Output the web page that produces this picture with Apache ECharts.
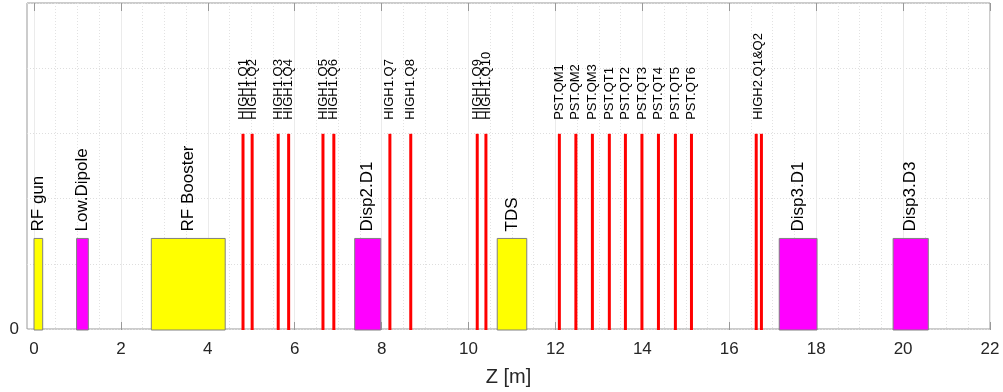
<!DOCTYPE html>
<html>
<head>
<meta charset="utf-8">
<script src="https://cdn.jsdelivr.net/npm/echarts@6/dist/echarts.min.js"></script>
<style>
  html, body { margin: 0; padding: 0; background: #ffffff; }
  #chart { width: 1003px; height: 392px; }
</style>
</head>
<body>
<div id="chart"></div>
<script>
// Beamline elements along Z (start / end in metres)
const elementNames  = ['RF gun', 'Low.Dipole', 'RF Booster', 'Disp2.D1', 'TDS', 'Disp3.D1', 'Disp3.D3'];
const elementStart  = [0.00, 0.98, 2.70, 7.38, 10.66, 17.15, 19.77];
const elementEnd    = [0.20, 1.25, 4.40, 7.98, 11.34, 18.02, 20.58];
const elementKind   = ['rf', 'dipole', 'rf', 'dipole', 'rf', 'dipole', 'dipole'];
const elementHeight = 1.4;

// Quadrupole positions (m)
const quadZ = [4.81, 5.02, 5.62, 5.86, 6.65, 6.90, 8.19, 8.67, 10.20, 10.40,
               12.09, 12.47, 12.85, 13.24, 13.61, 13.99, 14.37, 14.76, 15.13,
               16.62, 16.74];
const quadHeight = 3;

// Quadrupole labels and where they sit along Z
const quadLabelText = ['HIGH1.Q1', 'HIGH1.Q2', 'HIGH1.Q3', 'HIGH1.Q4', 'HIGH1.Q5', 'HIGH1.Q6',
                       'HIGH1.Q7', 'HIGH1.Q8', 'HIGH1.Q9', 'HIGH1.Q10',
                       'PST.QM1', 'PST.QM2', 'PST.QM3', 'PST.QT1', 'PST.QT2', 'PST.QT3',
                       'PST.QT4', 'PST.QT5', 'PST.QT6', 'HIGH2.Q1&Q2'];
const quadLabelZ = [4.81, 5.02, 5.62, 5.86, 6.65, 6.90, 8.19, 8.67, 10.20, 10.40,
                    12.09, 12.47, 12.85, 13.24, 13.61, 13.99, 14.37, 14.76, 15.13,
                    16.68];

// Axis ranges
const zMin = 0, zMax = 22, zStep = 2;
const yMin = 0, yMax = 5;

const FONT = "'Liberation Sans', Arial, Helvetica, sans-serif";
const TEXT_COLOR = '#262626';
const kindColor = { rf: '#ffff00', dipole: '#ff00ff' };

const chart = echarts.init(document.getElementById('chart'), null, { renderer: 'canvas' });

const option = {
  animation: false,
  backgroundColor: '#ffffff',
  grid: [
    // outer frame (extends a little left of Z = 0)
    { left: 27, right: 13, top: 3, bottom: 62, show: true, borderColor: '#999999', borderWidth: 1, backgroundColor: 'transparent' },
    // data area
    { left: 34, right: 13, top: 3, bottom: 62 }
  ],
  xAxis: [
    {
      gridIndex: 0, type: 'value', min: 0, max: 1,
      name: 'Z [m]', nameLocation: 'middle', nameGap: 38,
      nameTextStyle: { fontFamily: FONT, fontSize: 20, color: TEXT_COLOR },
      axisLine: { show: false }, axisTick: { show: false },
      axisLabel: { show: false }, splitLine: { show: false }
    },
    {
      gridIndex: 1, type: 'value', min: zMin, max: zMax, interval: zStep,
      axisLine: { show: false },
      axisTick: { show: true, inside: true, length: 8, lineStyle: { color: '#999999' } },
      axisLabel: { fontFamily: FONT, fontSize: 17, color: TEXT_COLOR, margin: 11 },
      splitLine: { show: true, lineStyle: { color: '#ebebeb', width: 1 } },
      minorTick: { show: false, splitNumber: 4 },
      minorSplitLine: { show: true, lineStyle: { color: '#e2e2e2', type: [1, 2], width: 1 } }
    },
    {
      gridIndex: 1, type: 'value', position: 'top', min: zMin, max: zMax, interval: zStep,
      axisLine: { show: false },
      axisTick: { show: true, inside: true, length: 8, lineStyle: { color: '#999999' } },
      axisLabel: { show: false }, splitLine: { show: false }
    }
  ],
  yAxis: [
    {
      gridIndex: 0, type: 'value', min: yMin, max: yMax, interval: 1,
      axisLine: { show: false }, axisTick: { show: false },
      axisLabel: {
        fontFamily: FONT, fontSize: 17, color: TEXT_COLOR, margin: 8,
        formatter: v => (v === 0 ? '0' : '')
      },
      splitLine: { show: true, lineStyle: { color: '#dedede', type: [1, 2], width: 1 } }
    },
    {
      gridIndex: 1, type: 'value', min: yMin, max: yMax, show: false
    }
  ],
  series: [
    // Quadrupoles: thin red bars
    {
      type: 'custom',
      xAxisIndex: 1, yAxisIndex: 1,
      data: quadZ.map(z => [z, quadHeight]),
      renderItem: (params, api) => {
        const base = api.coord([api.value(0), 0]);
        const top = api.coord([api.value(0), api.value(1)]);
        return {
          type: 'rect',
          shape: { x: base[0] - 1.5, y: top[1], width: 3, height: base[1] - top[1] },
          style: { fill: '#ff0000' }
        };
      }
    },
    // Quadrupole names above the bars
    {
      type: 'custom',
      xAxisIndex: 1, yAxisIndex: 1,
      data: quadLabelZ.map(z => [z, quadHeight]),
      renderItem: (params, api) => {
        const p = api.coord([api.value(0), api.value(1)]);
        return {
          type: 'text',
          x: p[0], y: p[1] - 14,
          rotation: Math.PI / 2,
          style: {
            text: quadLabelText[params.dataIndex],
            x: 0, y: 0,
            fontFamily: FONT, fontSize: 13, fill: '#000000',
            align: 'left', verticalAlign: 'middle'
          }
        };
      }
    },
    // Cavities and dipoles: filled boxes with their names on top
    {
      type: 'custom',
      xAxisIndex: 1, yAxisIndex: 1,
      data: elementStart.map((s, i) => [s, elementEnd[i], elementHeight]),
      renderItem: (params, api) => {
        const i = params.dataIndex;
        const p0 = api.coord([api.value(0), 0]);
        const p1 = api.coord([api.value(1), api.value(2)]);
        const cx = (p0[0] + p1[0]) / 2;
        return {
          type: 'group',
          children: [
            {
              type: 'rect',
              shape: { x: p0[0], y: p1[1], width: p1[0] - p0[0], height: p0[1] - p1[1] },
              style: { fill: kindColor[elementKind[i]], stroke: '#808080', lineWidth: 1 }
            },
            {
              type: 'text',
              x: cx, y: p1[1] - 7,
              rotation: Math.PI / 2,
              style: {
                text: elementNames[i],
                x: 0, y: 0,
                fontFamily: FONT, fontSize: 17, fill: '#000000',
                align: 'left', verticalAlign: 'middle'
              }
            }
          ]
        };
      }
    }
  ]
};

chart.setOption(option);
</script>
</body>
</html>
